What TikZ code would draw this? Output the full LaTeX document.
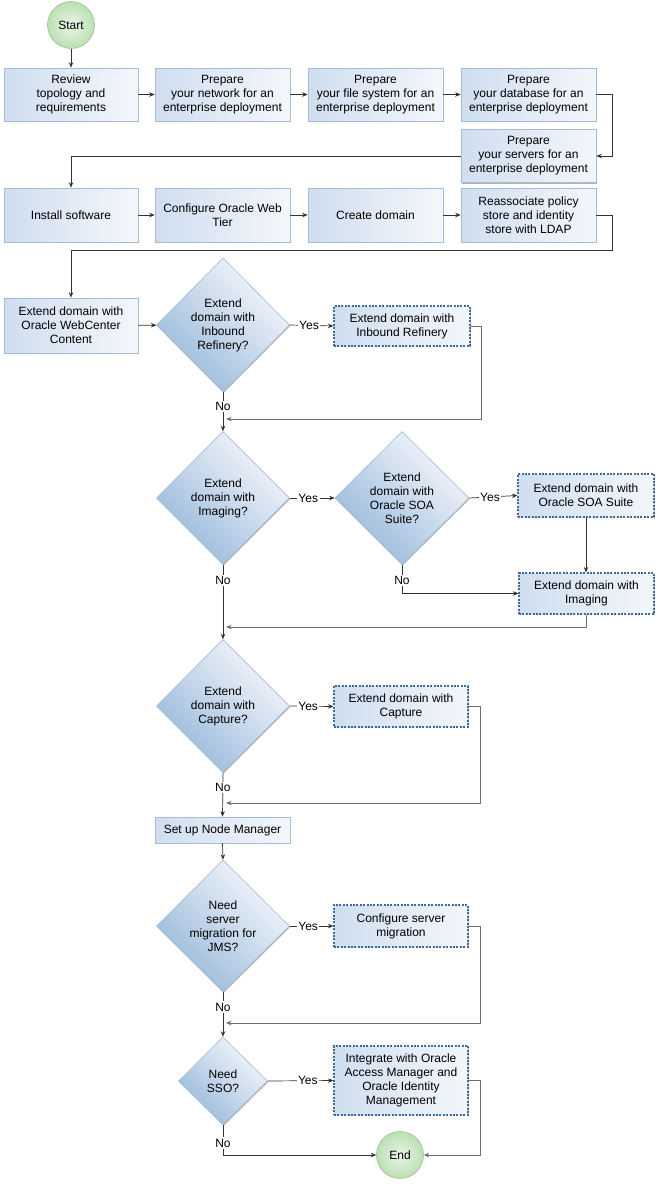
\documentclass[tikz,border=0pt]{standalone}
\usepackage{fontspec}
\setmainfont{Liberation Sans}
\usetikzlibrary{shapes.geometric,arrows.meta,shadows}
\definecolor{boxL}{HTML}{CFDEF0}
\definecolor{boxR}{HTML}{F4F7FB}
\definecolor{boxB}{HTML}{A3BCD7}
\definecolor{diaL}{HTML}{97B8DA}
\definecolor{diaR}{HTML}{F6F8FC}
\definecolor{dashB}{HTML}{3D6B9C}
\definecolor{grnI}{HTML}{EAF6E6}
\definecolor{grnO}{HTML}{BCDFB4}
\definecolor{grnB}{HTML}{98C391}
\definecolor{lineD}{HTML}{333333}
\definecolor{lineG}{HTML}{6E6E6E}
\tikzset{
  txt/.style={font=\fontsize{12}{14}\selectfont, align=center, text=black},
  shad/.style={drop shadow={shadow xshift=0.7pt, shadow yshift=-1pt, fill=black, opacity=0.3}},
  stepbox/.style={txt, shad, draw=boxB, line width=0.6pt, left color=boxL, right color=boxR, inner sep=0pt},
  optbox/.style={txt, shad, draw=dashB, line width=1.1pt, dash pattern=on 2pt off 1.4pt, left color=boxL, right color=boxR, inner sep=0pt, minimum width=134pt},
  decis/.style={txt, shad, diamond, draw=boxB, line width=0.6pt, left color=diaL, right color=diaR, shading angle=135, inner sep=0pt, aspect=1},
  term/.style={txt, circle, draw=grnB, line width=0.6pt, inner color=grnI, outer color=grnO, minimum size=47pt, inner sep=0pt},
  conn/.style={draw=lineD, line width=0.7pt, -{Stealth[length=5.5pt,width=4.5pt]}},
  back/.style={draw=lineG, line width=0.7pt, -{Stealth[length=5.5pt,width=4.5pt]}},
  lbl/.style={font=\fontsize{12}{14}\selectfont, fill=white, inner sep=1.5pt, text=black},
}
\begin{document}
\begin{tikzpicture}[x=1pt,y=-1pt]
\useasboundingbox (0,0) rectangle (657,1184);
% terminals
\node[term] (start) at (71,25) {Start};
\node[term] (end) at (400,1155) {End};
% row 1
\node[stepbox, minimum width=134pt, minimum height=53pt] (b1) at (71,94.5) {Review\\topology and\\requirements};
\node[stepbox, minimum width=135pt, minimum height=53pt] (b2) at (222.5,94.5) {Prepare\\your network for an\\enterprise deployment};
\node[stepbox, minimum width=135pt, minimum height=53pt] (b3) at (375.5,94.5) {Prepare\\your file system for an\\enterprise deployment};
\node[stepbox, minimum width=135pt, minimum height=53pt] (b4) at (528.5,94.5) {Prepare\\your database for an\\enterprise deployment};
\node[stepbox, minimum width=135pt, minimum height=53pt] (b5) at (528.5,156) {Prepare\\your servers for an\\enterprise deployment};
% row 2
\node[stepbox, minimum width=134pt, minimum height=54pt] (b6) at (71,215) {Install software};
\node[stepbox, minimum width=135pt, minimum height=54pt] (b7) at (222.5,215) {Configure Oracle Web\\Tier};
\node[stepbox, minimum width=135pt, minimum height=54pt] (b8) at (375.5,215) {Create domain};
\node[stepbox, minimum width=135pt, minimum height=54pt] (b9) at (528.5,215) {Reassociate policy\\store and identity\\store with LDAP};
% row 3
\node[stepbox, minimum width=134pt, minimum height=55pt] (b10) at (71,325.5) {Extend domain with\\Oracle WebCenter\\Content};
\node[decis, minimum width=133pt, minimum height=134pt] (d1) at (223,325) {Extend\\domain with\\Inbound\\Refinery?};
\node[optbox, minimum height=40pt, minimum width=136pt] (ib) at (402,326) {Extend domain with\\Inbound Refinery};
% imaging
\node[decis, minimum width=133pt, minimum height=133pt] (d2) at (223,498) {Extend\\domain with\\Imaging?};
\node[decis, minimum width=134pt, minimum height=133pt] (d3) at (402,498) {Extend\\domain with\\Oracle SOA\\Suite?};
\node[optbox, minimum height=43pt, minimum width=136pt] (soa) at (586,495.5) {Extend domain with\\Oracle SOA Suite};
\node[optbox, minimum height=41pt, minimum width=135pt] (img) at (586.5,593.5) {Extend domain with\\Imaging};
% capture
\node[decis, minimum width=133pt, minimum height=133pt] (d4) at (223,706) {Extend\\domain with\\Capture?};
\node[optbox, minimum height=41pt] (cap) at (401,706.5) {Extend domain with\\Capture};
\node[stepbox, minimum width=135pt, minimum height=26pt] (nm) at (222.5,830) {Set up Node Manager};
% JMS
\node[decis, minimum width=133pt, minimum height=132pt] (d5) at (223,926) {Need\\server\\migration for\\JMS?};
\node[optbox, minimum height=42pt] (cfg) at (401,926) {Configure server\\migration};
% SSO
\node[decis, minimum width=89pt, minimum height=88pt] (d6) at (223,1081) {Need\\SSO?};
\node[optbox, minimum height=69pt] (oam) at (401,1080.5) {Integrate with Oracle\\Access Manager and\\Oracle Identity\\Management};
% helper coordinates
\coordinate (r0) at (612,156);
\coordinate (r9) at (612,250);
\coordinate (r1) at (481,419);
\coordinate (j1) at (226,419);
\coordinate (j2) at (226,627);
\coordinate (r3) at (480,803);
\coordinate (j3) at (226,803);
\coordinate (r4) at (480,1023);
\coordinate (j4) at (226,1023);
\coordinate (r5) at (480,1155);
% connectors
\draw[conn] (start) -- (b1);
\draw[conn] (b1) -- (b2);
\draw[conn] (b2) -- (b3);
\draw[conn] (b3) -- (b4);
\draw[conn] (b4.east) -| (r0) -- (b5.east);
\draw[conn] (b5.west) -| (b6.north);
\draw[conn] (b6) -- (b7);
\draw[conn] (b7) -- (b8);
\draw[conn] (b8) -- (b9);
\draw[conn] (b9.east) -| (r9) -| (b10.north);
\draw[conn] (b10) -- (d1);
\draw[conn] (d1.east) -- node[lbl, pos=0.44]{Yes} (ib.west);
\draw[back] (ib.east) -| (r1) -- (j1);
\draw[conn] (d1.south) -- node[lbl, pos=0.37]{No} (d2.north);
\draw[conn] (d2.east) -- node[lbl, pos=0.41]{Yes} (d3.west);
\draw[conn] (d3.east) -- node[lbl, pos=0.43]{Yes} (soa.west);
\draw[conn] (soa.south) -- (img.north -| soa.south);
\draw[conn] (d3.south) |- node[lbl, pos=0.27]{No} (img.west);
\draw[back] (img.south) |- (j2);
\draw[conn] (d2.south) -- node[lbl, pos=0.21]{No} (d4.north);
\draw[conn] (d4.east) -- node[lbl, pos=0.42]{Yes} (cap.west);
\draw[back] (cap.east) -| (r3) -- (j3);
\draw[conn] (d4.south) -- node[lbl, pos=0.33]{No} (nm.north);
\draw[conn] (nm.south) -- (d5.north);
\draw[conn] (d5.east) -- node[lbl, pos=0.42]{Yes} (cfg.west);
\draw[back] (cfg.east) -| (r4) -- (j4);
\draw[conn] (d5.south) -- node[lbl, pos=0.33]{No} (d6.north);
\draw[conn] (d6.east) -- node[lbl, pos=0.61]{Yes} (oam.west);
\draw[back] (oam.east) -| (r5) -- (end.east);
\draw[conn] (d6.south) |- node[lbl, pos=0.3]{No} (end.west);
\end{tikzpicture}
\end{document}
